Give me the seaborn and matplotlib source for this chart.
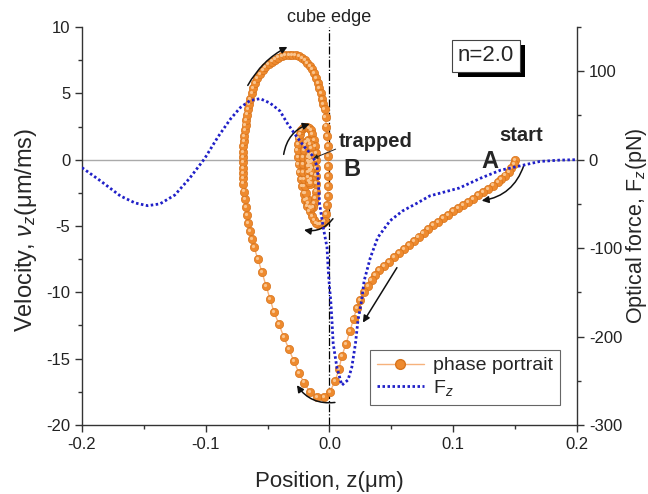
import matplotlib
matplotlib.use("Agg")
import numpy as np
import pandas as pd
import matplotlib.pyplot as plt
import matplotlib.transforms as mtransforms
import matplotlib.patheffects as pe
from matplotlib.lines import Line2D
from matplotlib.ticker import MultipleLocator, FormatStrFormatter
import seaborn as sns

# phase portrait: position z (um) and velocity v_z (um/ms)
z_phase = [
    0.150, 0.149, 0.147, 0.145, 0.142, 0.139, 0.136, 0.132, 0.128, 0.124,
    0.120, 0.116, 0.112, 0.108, 0.104, 0.100, 0.096, 0.092, 0.088, 0.084,
    0.080, 0.076, 0.072, 0.068, 0.064, 0.060, 0.056, 0.052, 0.048, 0.044,
    0.040, 0.037, 0.034, 0.031, 0.028, 0.025, 0.022,
    0.0195, 0.0166, 0.0133, 0.0100, 0.0077, 0.0044, 0.0004, -0.0044, -0.0100,
    -0.0160, -0.0206, -0.0246, -0.0287, -0.0327, -0.0368, -0.0408, -0.0448,
    -0.0480, -0.0513, -0.0545, -0.0578, -0.0610,
    -0.0626, -0.0642, -0.0655, -0.0667, -0.0677, -0.0685, -0.0690, -0.0695,
    -0.0698, -0.0700, -0.0701, -0.0701, -0.0700, -0.0699, -0.0696, -0.0692,
    -0.0688, -0.0683, -0.0678, -0.0672, -0.0666, -0.0658, -0.0649, -0.0640,
    -0.0628, -0.0614, -0.0600, -0.0582, -0.0562, -0.0540, -0.0517, -0.0492,
    -0.0466, -0.0440, -0.0413, -0.0385, -0.0357, -0.0329, -0.0301, -0.0274,
    -0.0248, -0.0223, -0.0200, -0.0178, -0.0158, -0.0140, -0.0124, -0.0109,
    -0.0095, -0.0082, -0.0070, -0.0059, -0.0049, -0.0040,
    -0.0032, -0.0025, -0.0019, -0.0014, -0.0010, -0.0008, -0.0008, -0.0010,
    -0.0014, -0.0020, -0.0028, -0.0040,
    -0.0055, -0.0072, -0.0090, -0.0108, -0.0126, -0.0144, -0.0161, -0.0178,
    -0.0194, -0.0208, -0.0221, -0.0232, -0.0242, -0.0250, -0.0256, -0.0258,
    -0.0256, -0.0250, -0.0240, -0.0228, -0.0214, -0.0198, -0.0182, -0.0166,
    -0.0151, -0.0138, -0.0127, -0.0118, -0.0112, -0.0108, -0.0106, -0.0106,
    -0.0108, -0.0112, -0.0118, -0.0126, -0.0136, -0.0148, -0.0160, -0.0172,
    -0.0183, -0.0193, -0.0201, -0.0207, -0.0211, -0.0212, -0.0210, -0.0205,
    -0.0197, -0.0187, -0.0176, -0.0165, -0.0155, -0.0147, -0.0142, -0.0139,
    -0.0139, -0.0141, -0.0145, -0.0151, -0.0158, -0.0165, -0.0171, -0.0175,
    -0.0176, -0.0174, -0.0170, -0.0164, -0.0158, -0.0153, -0.0150, -0.0150,
    -0.0152, -0.0156, -0.0160, -0.0162, -0.0161, -0.0158,
]
v_phase = [
    0.0, -0.3, -0.6, -0.9, -1.2, -1.45, -1.7, -1.95, -2.2, -2.45,
    -2.7, -2.95, -3.2, -3.4, -3.65, -3.9, -4.15, -4.4, -4.7, -4.95,
    -5.25, -5.55, -5.85, -6.15, -6.45, -6.75, -7.05, -7.35, -7.7, -8.0,
    -8.35, -8.7, -9.1, -9.5, -10.0, -10.6, -11.2,
    -12.0, -12.9, -13.9, -14.8, -15.8, -16.7, -17.5, -17.9, -17.9,
    -17.5, -16.8, -16.1, -15.2, -14.3, -13.4, -12.4, -11.5,
    -10.5, -9.5, -8.5, -7.5, -6.6,
    -6.0, -5.4, -4.8, -4.2, -3.6, -3.0, -2.4, -1.8,
    -1.4, -1.0, -0.6, -0.2, 0.2, 0.6, 1.0, 1.4,
    1.8, 2.2, 2.6, 3.0, 3.4, 3.8, 4.2, 4.6,
    5.0, 5.4, 5.8, 6.15, 6.45, 6.75, 7.0, 7.2,
    7.4, 7.55, 7.7, 7.8, 7.87, 7.9, 7.9, 7.86,
    7.78, 7.66, 7.5, 7.3, 7.08, 6.8, 6.5, 6.15,
    5.8, 5.4, 5.0, 4.6, 4.2, 3.8,
    3.2, 2.5, 1.75, 1.0, 0.25, -0.5, -1.25, -2.0,
    -2.75, -3.45, -4.1, -4.6,
    -4.75, -4.85, -4.85, -4.75, -4.55, -4.25, -3.9, -3.5,
    -3.05, -2.55, -2.0, -1.45, -0.9, -0.35, 0.2, 0.75,
    1.2, 1.6, 1.95, 2.2, 2.4, 2.5, 2.5, 2.4,
    2.2, 1.9, 1.5, 1.0, 0.5, 0.0, -0.6, -1.2,
    -1.8, -2.4, -2.9, -3.3, -3.55, -3.65, -3.55, -3.3,
    -2.95, -2.5, -2.0, -1.45, -0.9, -0.35, 0.2, 0.7,
    1.1, 1.35, 1.45, 1.4, 1.2, 0.85, 0.4, -0.1,
    -0.6, -1.1, -1.5, -1.75, -1.8, -1.65, -1.35, -0.95,
    -0.5, -0.1, 0.2, 0.35, 0.3, 0.1, -0.2, -0.5,
    -0.75, -0.85, -0.75, -0.5, -0.25, -0.15,
]

# optical force F_z (pN) against position z (um)
z_force = [
    -0.200, -0.185, -0.169, -0.157, -0.147, -0.137, -0.125, -0.113, -0.101, -0.090,
    -0.080, -0.072, -0.064, -0.056, -0.048, -0.040, -0.034, -0.026, -0.020, -0.014,
    -0.010, -0.009, -0.008, -0.005, -0.002, -0.001, 0.000, 0.001, 0.002, 0.003,
    0.006, 0.010, 0.015, 0.018, 0.021, 0.023, 0.026, 0.028, 0.033, 0.039,
    0.049, 0.059, 0.071, 0.081, 0.089, 0.105, 0.122, 0.138, 0.154, 0.170,
    0.186, 0.200,
]
f_force = [
    -9, -24, -41, -49, -52, -50, -40, -21, 1, 26,
    46, 59, 67, 69, 64, 55, 41, 25, 14, 5,
    -7, -24, -50, -77, -99, -125, -144, -159, -182, -208,
    -235, -255, -249, -235, -208, -182, -159, -137, -111, -88,
    -69, -58, -49, -41, -38, -32, -21, -12, -7, -2,
    -0.5, 0,
]

phase = pd.DataFrame({"z": z_phase, "v": v_phase})
force = pd.DataFrame({"z": z_force, "F": f_force})

sns.set_style("ticks")
plt.rcParams["font.family"] = ["Liberation Sans", "DejaVu Sans"]
plt.rcParams["mathtext.fontset"] = "custom"
plt.rcParams["mathtext.rm"] = "Liberation Sans"
plt.rcParams["mathtext.it"] = "Liberation Sans:italic"
plt.rcParams["axes.unicode_minus"] = False

orange = "#ee8a2e"
orange_edge = "#d8741c"
orange_light = "#f6b27c"
blue = "#2020c8"
ink = "#333333"

fig, ax = plt.subplots(figsize=(6.48, 4.94), dpi=100)
fig.subplots_adjust(left=0.1265, right=0.8904, bottom=0.1397, top=0.9453)

ax.axhline(0, color="#aaaaaa", lw=1.0, zorder=1)
ax.axvline(0, color="black", lw=0.9, ls="-.", zorder=1)

sns.lineplot(data=phase, x="z", y="v", sort=False, estimator=None, ax=ax,
             color=orange_light, lw=1.0, marker="o", markersize=6.0,
             markerfacecolor=orange, markeredgecolor=orange_edge,
             markeredgewidth=0.5, zorder=3)
# sphere highlight
hl = mtransforms.offset_copy(ax.transData, fig=fig, x=-0.8, y=0.8, units="points")
ax.plot(phase["z"], phase["v"], ls="none", marker="o", markersize=2.3,
        markerfacecolor="#f9c48e", markeredgewidth=0, transform=hl, zorder=3)

ax.set_xlim(-0.2, 0.2)
ax.set_ylim(-20, 10)
ax.xaxis.set_major_locator(MultipleLocator(0.1))
ax.xaxis.set_minor_locator(MultipleLocator(0.05))
ax.xaxis.set_major_formatter(FormatStrFormatter("%.1f"))
ax.yaxis.set_major_locator(MultipleLocator(5))
ax.yaxis.set_minor_locator(MultipleLocator(2.5))
ax.set_xlabel("Position, z(\u03bcm)", fontsize=16, labelpad=14)
ax.set_ylabel("Velocity, $\\nu_z$(\u03bcm/ms)", fontsize=17, va="center")
ax.yaxis.set_label_coords(-0.113, 0.49)

ax2 = ax.twinx()
sns.lineplot(data=force, x="z", y="F", sort=False, estimator=None, ax=ax2,
             color=blue, lw=2.0, ls=(0, (0.9, 0.9)))
ax2.set_ylim(-300, 150)
ax2.yaxis.set_major_locator(MultipleLocator(100))
ax2.yaxis.set_minor_locator(MultipleLocator(50))
ax2.set_ylabel("Optical force, F$_z$(pN)", fontsize=15.5, rotation=90,
               va="center", ha="center")
ax2.yaxis.set_label_coords(1.12, 0.5)

for a in (ax, ax2):
    a.spines["top"].set_visible(False)
    for s in a.spines.values():
        s.set_color(ink)
        s.set_linewidth(1.0)
    a.tick_params(which="major", direction="out", length=5, width=1,
                  labelsize=12, color=ink, labelcolor="#222222")
    a.tick_params(which="minor", direction="out", length=3, width=1, color=ink)
ax.spines["right"].set_visible(False)
ax2.spines["left"].set_visible(False)
ax2.spines["bottom"].set_visible(False)

# labels and arrows
ax.text(0.0, 1.003, "cube edge", transform=ax.get_xaxis_transform(),
        ha="center", va="bottom", fontsize=13, color="#222222")
ax.text(0.155, 1.8, "start", fontsize=14.5, fontweight="bold", ha="center", va="center")
ax.text(0.130, -0.1, "A", fontsize=17, fontweight="bold", ha="center", va="center")
ax.text(0.018, -0.75, "B", fontsize=17, fontweight="bold", ha="center", va="center")
ax.annotate("trapped", xy=(-0.013, 0.1), xytext=(0.0375, 1.4),
            fontsize=14.5, fontweight="bold", ha="center", va="center",
            arrowprops=dict(arrowstyle="-|>", lw=0.7, color="#222222",
                            mutation_scale=6, shrinkA=0, shrinkB=0,
                            relpos=(0.0, 0.15)))

arrow_kw = dict(arrowstyle="-|>", lw=1.1, color="#111111", mutation_scale=10,
                shrinkA=0, shrinkB=0)
for start, end, rad in [
    ((-0.0660, 5.60), (-0.0340, 8.50), -0.15),
    ((-0.0370, 0.40), (-0.0160, 2.70), -0.3),
    ((0.0028, -4.45), (-0.0206, -5.30), -0.3),
    ((0.157, -0.45), (0.123, -3.09), -0.3),
    ((0.0545, -8.14), (0.027, -12.28), 0.0),
    ((0.0044, -18.3), (-0.0263, -17.0), -0.3),
]:
    ax.annotate("", xy=end, xytext=start,
                arrowprops=dict(connectionstyle=f"arc3,rad={rad}", **arrow_kw))

# n=2.0 box with drop shadow
nbox = ax.text(0.816, 0.928, "n=2.0", transform=ax.transAxes, fontsize=16,
               ha="center", va="center",
               bbox=dict(boxstyle="square,pad=0.25", fc="white", ec="#444444", lw=0.8))
nbox.get_bbox_patch().set_path_effects([
    pe.SimplePatchShadow(offset=(4, -4), shadow_rgbFace="black", alpha=1.0),
    pe.Normal(),
])

handles = [
    Line2D([], [], color=orange_light, lw=1.0, marker="o", markersize=7,
           markerfacecolor=orange, markeredgecolor=orange_edge),
    Line2D([], [], color=blue, lw=2.0, ls=(0, (0.9, 0.9))),
]
leg = ax2.legend(handles, ["phase portrait", "F$_z$"], loc="lower right",
                 bbox_to_anchor=(0.966, 0.05), borderaxespad=0, fontsize=14,
                 frameon=True, fancybox=False, edgecolor="#666666",
                 framealpha=1, handlelength=2.4, handletextpad=0.5,
                 borderpad=0.35, labelspacing=0.2)
leg.get_frame().set_linewidth(0.8)

plt.savefig("out.png", dpi=100)
